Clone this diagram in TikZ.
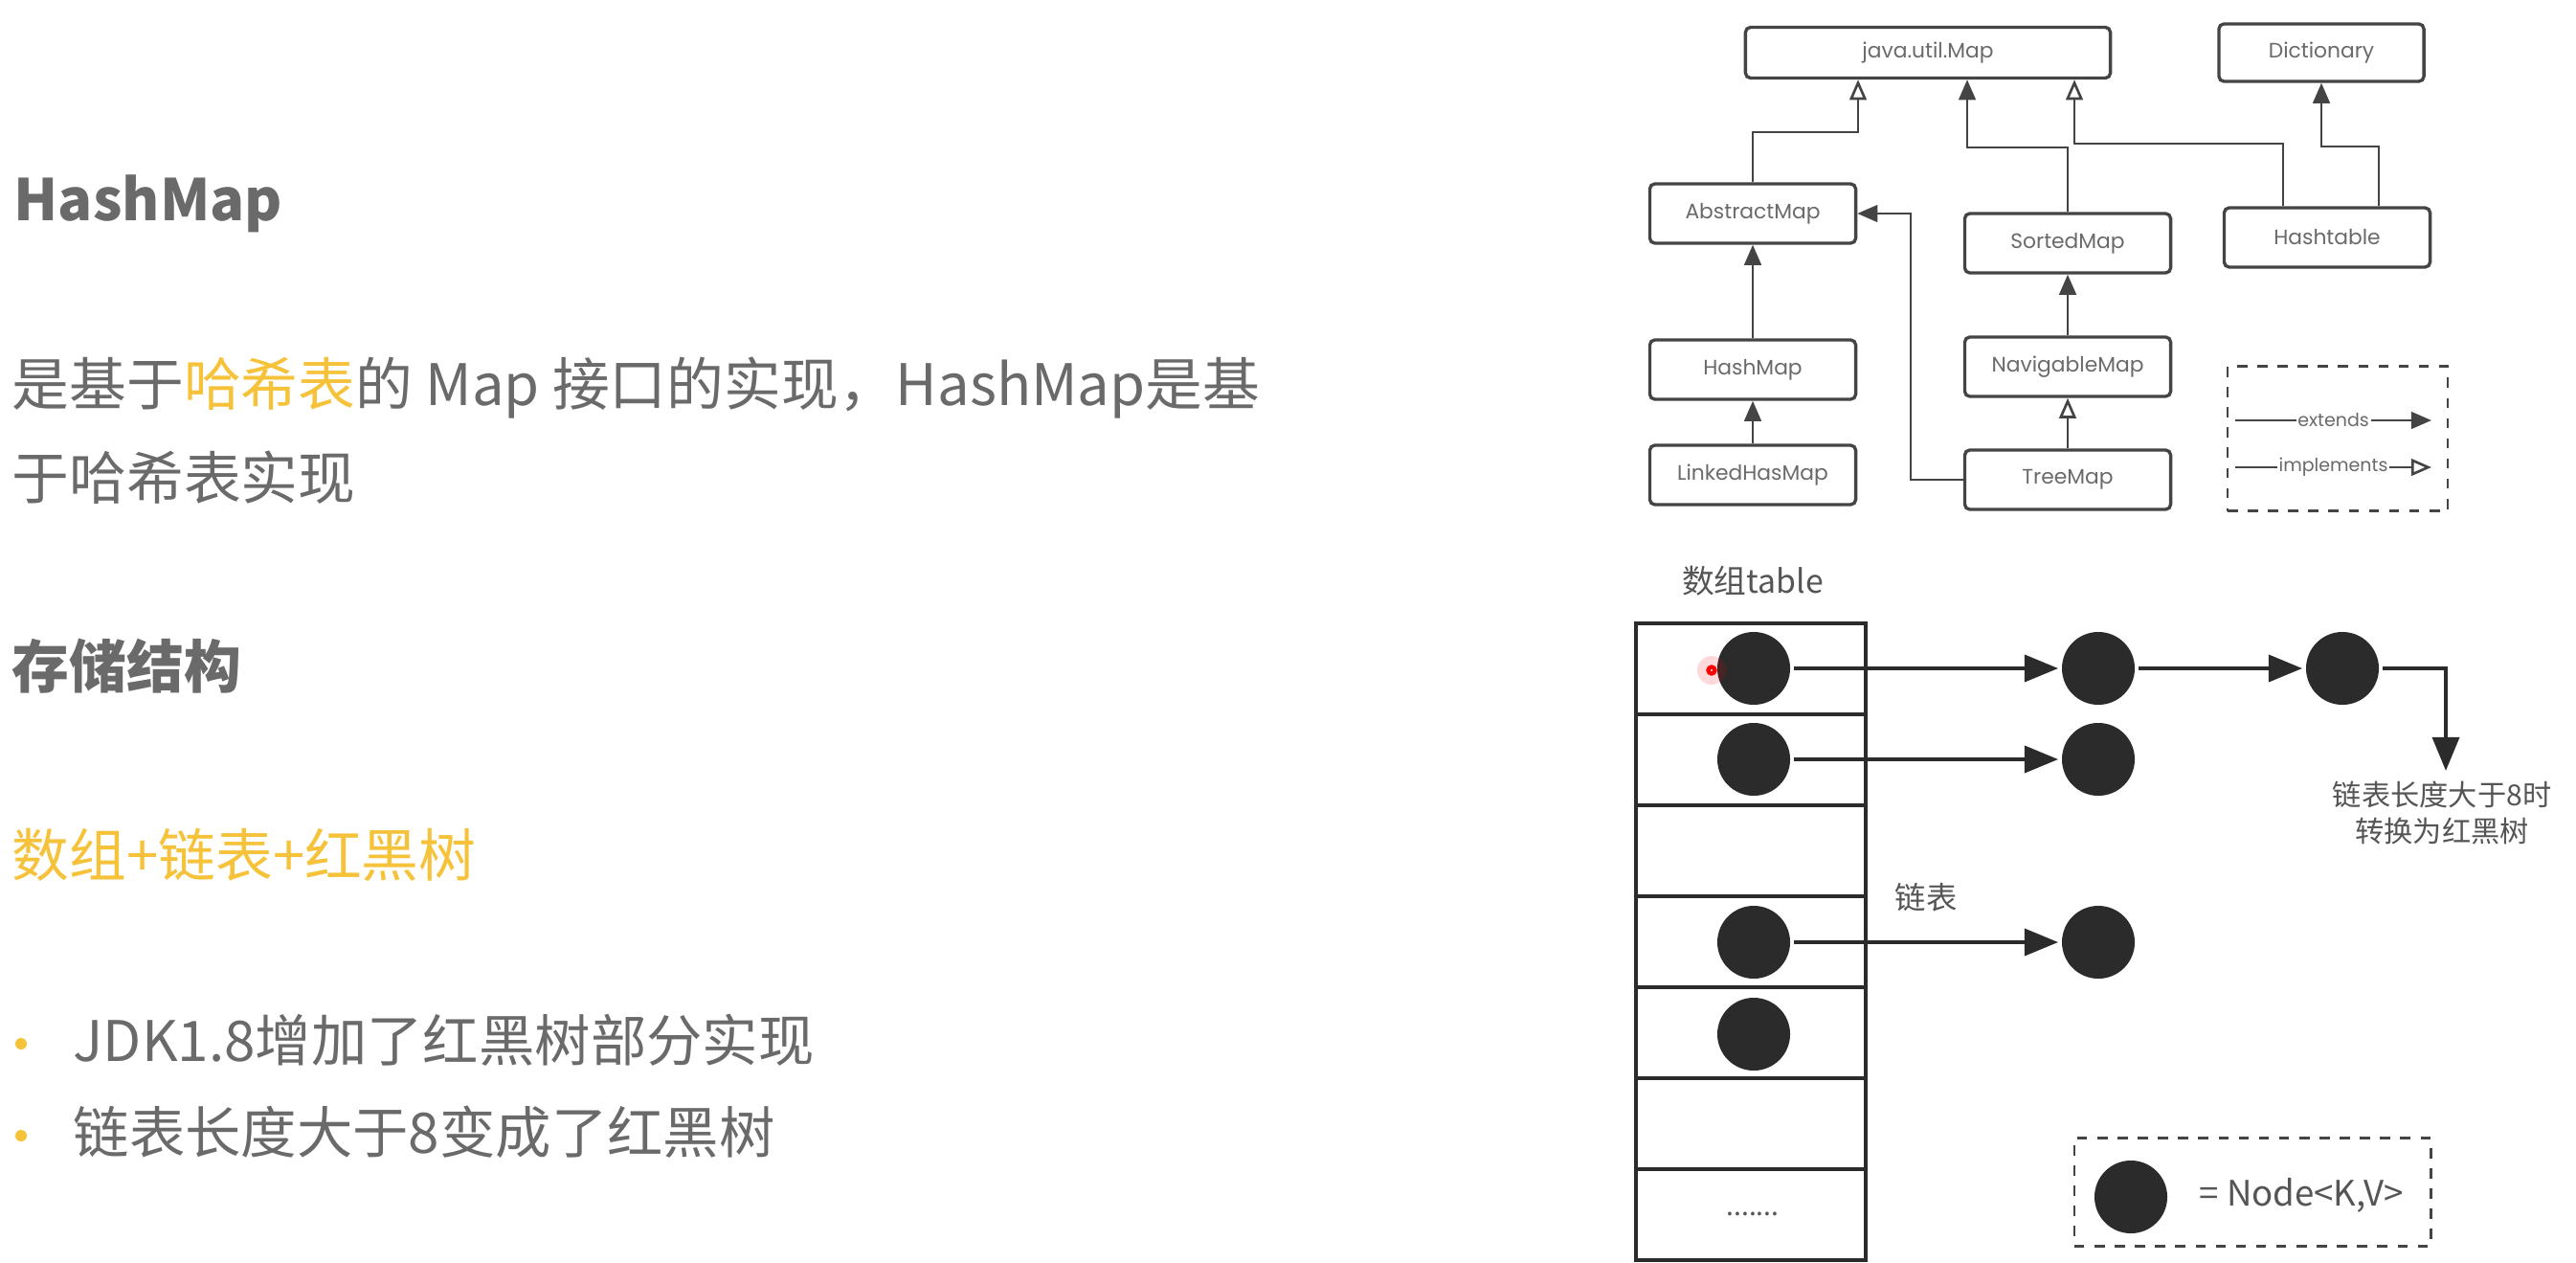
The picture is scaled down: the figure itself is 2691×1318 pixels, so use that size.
\documentclass[tikz,border=0pt]{standalone}
\usepackage{fontspec}
\setmainfont{Noto Sans CJK SC}
\newfontfamily\umlfont{Poppins}
\usepackage{xcolor}
\usetikzlibrary{shapes,arrows.meta,positioning,calc}

\definecolor{textgray}{HTML}{6A6A6A}
\definecolor{hlyellow}{HTML}{F5C23A}
\definecolor{linegray}{HTML}{444444}
\definecolor{darkdot}{HTML}{2B2B2B}

\begin{document}
\begin{tikzpicture}[
    x=0.01cm, y=-0.01cm,
    heading/.style={anchor=base west, inner sep=0, text=textgray, font=\fontsize{17}{20}\selectfont\bfseries},
    bodytext/.style={anchor=base west, inner sep=0, text=textgray, font=\fontsize{17}{20}\selectfont},
    umlbox/.style={rectangle, draw=linegray, line width=0.95pt, rounded corners=1.5pt, minimum width=2.15cm, minimum height=0.62cm, inner sep=0, text=textgray, font=\umlfont\fontsize{6.2}{8}\selectfont},
    ext/.style={-{Triangle[length=6pt, width=5pt]}, draw=linegray, line width=0.75pt},
    impl/.style={-{Triangle[open, length=6pt, width=5pt, fill=white]}, draw=linegray, line width=0.75pt},
    cell/.style={rectangle, draw=darkdot, line width=1.1pt, minimum width=2.4cm, minimum height=0.95cm, inner sep=0},
    dot/.style={circle, fill=darkdot, minimum size=0.76cm, inner sep=0, outer sep=0.04cm},
    link/.style={-{Triangle[length=10pt, width=8pt]}, draw=darkdot, line width=1pt},
    smalltext/.style={text=darkdot!80, inner sep=0}
]
    \fill[white] (0,0) rectangle (2691,1318);
    \useasboundingbox (0,0) rectangle (2691,1318);

    % left column text
    \node [heading] (title) at (14,230) {HashMap};
    \node [bodytext] (intro1) at (12,423) {是基于\textcolor{hlyellow}{哈希表}的 Map 接口的实现，HashMap是基};
    \node [bodytext] (intro2) at (12,521) {于哈希表实现};
    \node [heading] (storage) at (12,718) {存储结构};
    \node [bodytext, text=hlyellow] (combo) at (12,915) {数组+链表+红黑树};
    \fill [hlyellow] (22,1090) circle (0.06cm);
    \node [bodytext, font=\fontsize{16.6}{20}\selectfont] (point1) at (76,1108) {JDK1.8增加了红黑树部分实现};
    \fill [hlyellow] (22,1186) circle (0.06cm);
    \node [bodytext, font=\fontsize{16.6}{20}\selectfont] (point2) at (76,1204) {链表长度大于8变成了红黑树};

    % class hierarchy
    \node [umlbox, minimum width=3.81cm, minimum height=0.53cm] (map) at (2014,55) {java.util.Map};
    \node [umlbox, minimum width=2.14cm, minimum height=0.6cm] (dict) at (2425,55) {Dictionary};
    \node [umlbox] (abstract) at (1831,223) {AbstractMap};
    \node [umlbox] (sorted) at (2160,254) {SortedMap};
    \node [umlbox] (hashtable) at (2431,248) {Hashtable};
    \node [umlbox] (hashmap) at (1831,386) {HashMap};
    \node [umlbox] (navigable) at (2160,383) {NavigableMap};
    \node [umlbox] (linked) at (1831,496) {LinkedHasMap};
    \node [umlbox] (treemap) at (2160,501) {TreeMap};

    \draw [impl] (abstract.north) |- (1941,138) -- (1941,138 |- map.south);
    \draw [ext] (sorted.north) |- (2055,154) -- (2055,154 |- map.south);
    \draw [impl] ($(hashtable.north)+(-46,0)$) |- (2167,150) -- (2167,150 |- map.south);
    \draw [ext] ($(hashtable.north)+(54,0)$) |- (2425,153) -- (dict.south);
    \draw [ext] (hashmap.north) -- (abstract.south);
    \draw [ext] (linked.north) -- (hashmap.south);
    \draw [ext] (navigable.north) -- (sorted.south);
    \draw [impl] (treemap.north) -- (navigable.south);
    \draw [ext] (treemap.west) -| (1996,223) -- (abstract.east);

    % legend for arrows
    \node [draw=linegray, dashed, line width=0.7pt, minimum width=2.3cm, minimum height=1.51cm] (arrowkey) at (2442,458) {};
    \coordinate (e1) at (2335,439);
    \coordinate (e2) at (2540,439);
    \coordinate (i1) at (2335,488);
    \coordinate (i2) at (2540,488);
    \draw [ext] (e1) -- node [fill=white, inner sep=0.5pt, text=textgray, font=\umlfont\fontsize{5.4}{6}\selectfont] {extends} (e2);
    \draw [impl] (i1) -- node [fill=white, inner sep=0.5pt, text=textgray, font=\umlfont\fontsize{5.4}{6}\selectfont] {implements} (i2);

    % array table with buckets
    \node [smalltext, font=\fontsize{9.6}{12}\selectfont] (tablelabel) at (1831,607) {数组table};
    \foreach \i in {0,...,6}
        \node [cell] (r\i) at (1829,{698.5+95*\i}) {};
    \node [smalltext, font=\fontsize{8}{10}\selectfont] (more) at (1831,1268) {.......};

    \node [dot] (a0) at (1832,698) {};
    \node [dot] (a1) at (1832,793) {};
    \node [dot] (a3) at (1832,984) {};
    \node [dot] (a4) at (1832,1080) {};
    \node [dot] (b0) at (2192,698) {};
    \node [dot] (c0) at (2447,698) {};
    \node [dot] (b1) at (2192,793) {};
    \node [dot] (b3) at (2192,984) {};

    \draw [link] (a0) -- (b0);
    \draw [link] (b0) -- (c0);
    \draw [link] (a1) -- (b1);
    \draw [link] (a3) -- node [smalltext, above=0.3cm, font=\fontsize{9.2}{12}\selectfont] (chain) {链表} (b3);

    \node [smalltext, align=center, font=\fontsize{8.6}{11}\selectfont] (note) at (2551,849) {链表长度大于8时\\转换为红黑树};
    \draw [link] (c0.east) -| ($(note.north)+(4,-10)$);

    % cursor mark
    \fill [red, opacity=0.15] (1788,700) circle (0.15cm);
    \draw [red, line width=1.2pt] (1788,700) circle (0.035cm);

    % legend for node
    \node [draw=linegray, dashed, line width=0.8pt, minimum width=3.72cm, minimum height=1.13cm] (nodekey) at (2353,1245) {};
    \node [dot] (keydot) at (2226,1250) {};
    \node [smalltext, font=\fontsize{10.4}{12}\selectfont] (keytext) at (2404,1248) {= Node<K,V>};
\end{tikzpicture}
\end{document}
